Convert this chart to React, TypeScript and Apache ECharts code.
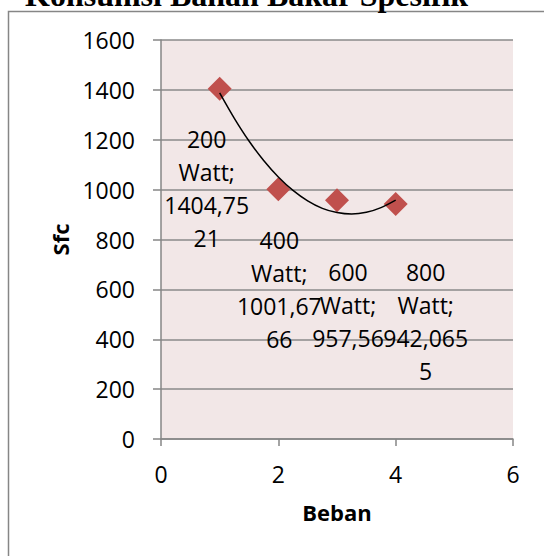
import React, { useEffect, useRef } from "react";
import * as echarts from "echarts";

const titleText = "Konsumsi Bahan Bakar Spesifik";
const loadNames = ["200 Watt", "400 Watt", "600 Watt", "800 Watt"];
const bebanValues = [1, 2, 3, 4];
const sfcValues = [1404.7521, 1001.6766, 957.56, 942.0655];
// polynomial trendline, values
const trendX = [1, 1.25, 1.5, 1.75, 2, 2.25, 2.5, 2.75, 3, 3.25, 3.5, 3.75, 4];
const trendY = [1388, 1286, 1195, 1117, 1051, 997, 955, 925, 908, 902, 909, 928, 958];
const xAxisName = "Beban";
const yAxisName = "Sfc";

const FONT = "'Open Sans', 'Liberation Sans', sans-serif";
const LABEL_SIZE = 23;
const LABEL_FONT = `${LABEL_SIZE}px 'Open Sans'`;

function wrapText(text: string, maxWidth: number): string {
  const ctx = document.createElement("canvas").getContext("2d");
  if (!ctx) return text;
  ctx.font = LABEL_FONT;
  const w = (s: string) => ctx.measureText(s).width;
  const lines: string[] = [];
  let cur = "";
  for (const word of text.split(" ")) {
    const cand = cur ? cur + " " + word : word;
    if (w(cand) <= maxWidth) {
      cur = cand;
      continue;
    }
    if (cur) lines.push(cur);
    cur = "";
    let piece = "";
    for (const ch of word) {
      if (w(piece + ch) <= maxWidth || !piece) piece += ch;
      else {
        lines.push(piece);
        piece = ch;
      }
    }
    cur = piece;
  }
  if (cur) lines.push(cur);
  return lines.join("\n");
}

export default function App() {
  const ref = useRef<HTMLDivElement>(null);
  useEffect(() => {
    if (!ref.current) return;
    const chart = echarts.init(ref.current, null, { renderer: "svg" });
    const labelOffsets = [
      [-13, 100],
      [1, 100],
      [11, 105],
      [30, 117],
    ];
    const axisColor = "#868686";
    chart.setOption({
      animation: false,
      backgroundColor: "#ffffff",
      grid: {
        left: 161,
        right: 31,
        top: 40,
        bottom: 117,
        show: true,
        backgroundColor: "#F2E7E7",
        borderWidth: 0,
        containLabel: false,
      },
      graphic: [
        {
          type: "rect",
          shape: { x: 8.5, y: 11.5, width: 620, height: 620 },
          style: { fill: "none", stroke: axisColor, lineWidth: 1.5 },
          silent: true,
        },
        {
          type: "text",
          left: 25,
          top: -21,
          style: {
            text: titleText,
            font: "bold 32px 'Liberation Serif', serif",
            fill: "#000",
          },
        },
      ],
      xAxis: {
        type: "value",
        min: 0,
        max: 6,
        interval: 2,
        axisLine: { show: true, lineStyle: { color: axisColor, width: 1.5 } },
        axisTick: { show: true, length: 7, lineStyle: { color: axisColor, width: 1.5 } },
        splitLine: { show: false },
        axisLabel: {
          fontSize: LABEL_SIZE,
          color: "#000",
          margin: 23,
          fontFamily: FONT,
          formatter: (v: number) => String(v),
        },
        name: xAxisName,
        nameLocation: "middle",
        nameGap: 62,
        nameTextStyle: { fontSize: 22, fontWeight: "bold", color: "#000", fontFamily: FONT },
      },
      yAxis: {
        type: "value",
        min: 0,
        max: 1600,
        interval: 200,
        axisLine: { show: true, lineStyle: { color: axisColor, width: 1.5 } },
        axisTick: { show: true, length: 8, lineStyle: { color: axisColor, width: 1.5 } },
        splitLine: { show: true, lineStyle: { color: "#8A8A8A", width: 1.5 } },
        axisLabel: {
          fontSize: LABEL_SIZE,
          color: "#000",
          margin: 26,
          fontFamily: FONT,
          formatter: (v: number) => String(v),
        },
        name: yAxisName,
        nameLocation: "middle",
        nameGap: 86,
        nameRotate: 90,
        nameTextStyle: { fontSize: 22, fontWeight: "bold", color: "#000", fontFamily: FONT },
      },
      series: [
        {
          type: "scatter",
          symbol: "diamond",
          symbolSize: 24,
          itemStyle: { color: "#C0504D", opacity: 1 },
          z: 2,
          label: {
            show: true,
            position: "inside",
            fontSize: LABEL_SIZE,
            lineHeight: 33,
            color: "#000",
            fontFamily: FONT,
            align: "center",
            formatter: (p: any) =>
              wrapText(`${p.name}; ${String(p.value[1]).replace(".", ",")}`, 90),
          },
          data: sfcValues.map((v, i) => ({
            name: loadNames[i],
            value: [bebanValues[i], v],
            label: { offset: labelOffsets[i] },
          })),
        },
        {
          type: "line",
          smooth: 0.3,
          symbol: "none",
          z: 3,
          lineStyle: { color: "#000", width: 1.5 },
          data: trendX.map((x, i) => [x, trendY[i]]),
        },
      ],
    });
    return () => chart.dispose();
  }, []);
  return (
    <div
      ref={ref}
      style={{ position: "absolute", left: 0, top: 0, width: 544, height: 556 }}
    />
  );
}
